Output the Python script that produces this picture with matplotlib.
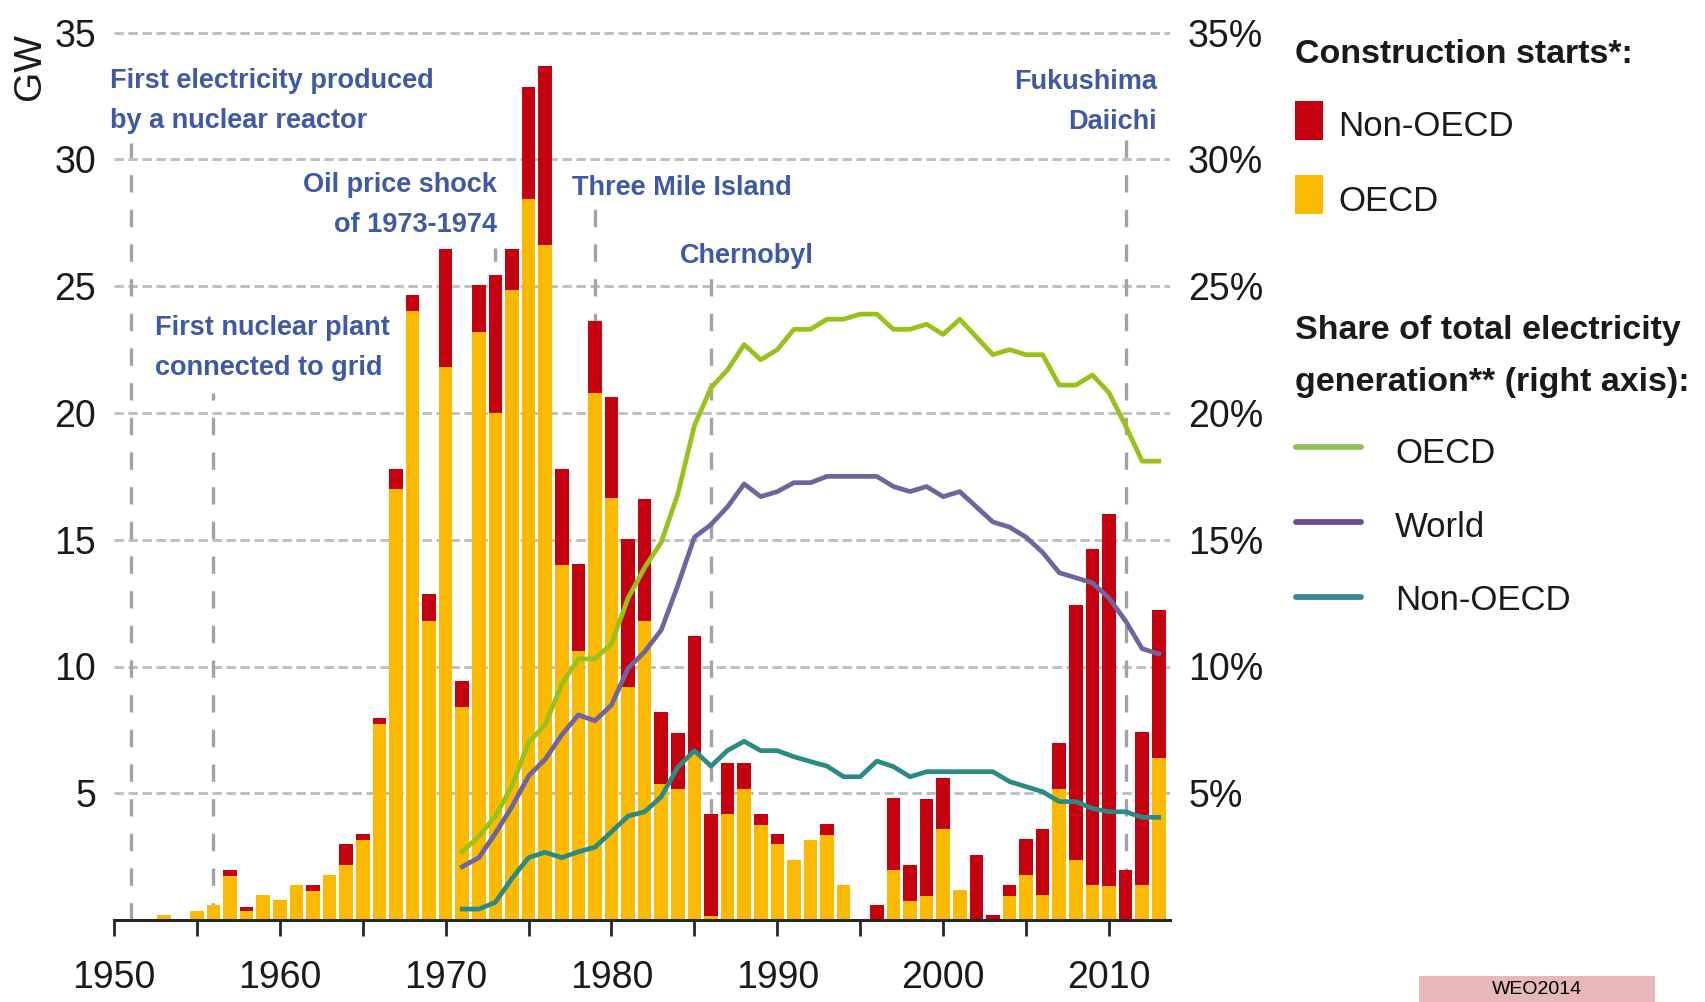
import matplotlib
matplotlib.use("Agg")
import matplotlib.pyplot as plt
from matplotlib.patches import Rectangle
from matplotlib.lines import Line2D

# ---------------- data ----------------
years = list(range(1953, 2014))
oecd_gw = [0.2, 0.0, 0.35, 0.6, 1.73, 0.35, 1.0, 0.79, 1.38, 1.14,
           1.77, 2.17, 3.16, 7.73, 17.0, 24.04, 11.8, 21.83, 8.42, 23.2,
           20.0, 24.85, 28.44, 26.63, 14.0, 10.62, 20.8, 16.65, 9.2, 11.8,
           5.36, 5.17, 6.55, 0.16, 4.18, 5.17, 3.75, 3.0, 2.37, 3.16,
           3.35, 1.38, 0.0, 0.0, 1.97, 0.75, 0.95, 3.59, 1.18, 0.0,
           0.0, 0.95, 1.78, 1.0, 5.17, 2.37, 1.38, 1.34, 0.0, 1.38,
           6.4]
non_oecd_gw = [0.0, 0.0, 0.0, 0.0, 0.24, 0.15, 0.0, 0.0, 0.0, 0.24,
               0.0, 0.83, 0.23, 0.24, 0.8, 0.61, 1.05, 4.64, 1.01, 1.85,
               5.44, 1.62, 4.41, 7.06, 3.8, 3.42, 2.83, 3.99, 5.83, 4.8,
               2.86, 2.19, 4.65, 4.02, 2.0, 1.01, 0.43, 0.39, 0.0, 0.0,
               0.44, 0.0, 0.0, 0.59, 2.83, 1.42, 3.81, 2.0, 0.0, 2.56,
               0.2, 0.43, 1.42, 2.59, 1.8, 10.06, 13.25, 14.66, 1.97, 6.02,
               5.83]

share_years = list(range(1971, 2014))
share_oecd = [2.7, 3.3, 4.1, 5.3, 7.0, 7.7, 9.3, 10.3, 10.3, 10.9,
              12.7, 13.9, 14.9, 16.8, 19.5, 21.0, 21.7, 22.7, 22.1, 22.5,
              23.3, 23.3, 23.7, 23.7, 23.9, 23.9, 23.3, 23.3, 23.5, 23.1,
              23.7, 23.0, 22.3, 22.5, 22.3, 22.3, 21.1, 21.1, 21.5, 20.8,
              19.5, 18.1, 18.1]
share_world = [2.1, 2.46, 3.42, 4.47, 5.68, 6.34, 7.3, 8.09, 7.86, 8.48,
               9.93, 10.58, 11.44, 13.2, 15.1, 15.6, 16.3, 17.2, 16.7, 16.9,
               17.25, 17.25, 17.5, 17.5, 17.5, 17.5, 17.1, 16.9, 17.1, 16.7,
               16.9, 16.3, 15.7, 15.5, 15.1, 14.5, 13.7, 13.5, 13.3, 12.7,
               11.8, 10.7, 10.5]
share_non_oecd = [0.43, 0.43, 0.70, 1.64, 2.46, 2.67, 2.46, 2.69, 2.87, 3.48,
                  4.10, 4.27, 4.86, 6.03, 6.68, 6.07, 6.69, 7.05, 6.68, 6.68,
                  6.44, 6.25, 6.07, 5.65, 5.65, 6.27, 6.05, 5.65, 5.85, 5.85,
                  5.85, 5.85, 5.85, 5.46, 5.26, 5.06, 4.67, 4.67, 4.40, 4.27,
                  4.27, 4.05, 4.05]

event_years = [1951, 1956, 1973, 1979, 1986, 2011]
event_tops = [30.65, 20.8, 26.5, 28.4, 25.4, 30.8]

y_ticks = [5, 10, 15, 20, 25, 30, 35]
left_labels = ["5", "10", "15", "20", "25", "30", "35"]
right_labels = ["5%", "10%", "15%", "20%", "25%", "30%", "35%"]
x_ticks = list(range(1950, 2011, 5))
x_labels = ["1950", "", "1960", "", "1970", "", "1980", "", "1990", "",
            "2000", "", "2010"]

# ---------------- style ----------------
RED = "#C5000F"
YELLOW = "#FBBA00"
GREEN = "#98C11A"
PURPLE = "#6E65A0"
TEAL = "#2C8A84"
LG_GREEN = "#93C157"
LG_PURPLE = "#6B4F8E"
LG_TEAL = "#3E8299"
BLUE = "#4059A6"
DARK = "#1A1A1A"

plt.rcParams["font.family"] = ["Liberation Sans", "DejaVu Sans"]

W, H = 1706, 1002
fig = plt.figure(figsize=(W / 100, H / 100), dpi=100)
fig.patch.set_facecolor("white")


def fx(px):
    return px / W


def fy(py):
    return 1 - py / H


PX_PER_GW = 25.35
Y0 = 920
YTOP = 35.2
ax_top_px = Y0 - YTOP * PX_PER_GW
ax = fig.add_axes([fx(114), fy(Y0), (1170 - 114) / W, (Y0 - ax_top_px) / H])
ax.set_xlim(1950, 2013.68)
ax.set_ylim(0, YTOP)

# grid & event lines
ax.set_yticks(y_ticks)
ax.set_yticklabels(left_labels)
ax.yaxis.grid(True, color="#BFBFBF", lw=2.1, linestyle=(0, (3.2, 1.6)), zorder=0.5)
ax.set_axisbelow(True)
for yr, top in zip(event_years, event_tops):
    ax.plot([yr, yr], [0, top], color="#A3A3A3", lw=2.4,
            linestyle=(0, (5.2, 5.2)), zorder=1)

# bars
ax.bar(years, oecd_gw, width=0.82, color=YELLOW, linewidth=0, zorder=3)
ax.bar(years, non_oecd_gw, width=0.82, bottom=oecd_gw, color=RED, linewidth=0, zorder=3)

for sp in ["left", "right", "top"]:
    ax.spines[sp].set_visible(False)
ax.spines["bottom"].set_color("#262626")
ax.spines["bottom"].set_linewidth(2.2)
ax.spines["bottom"].set_zorder(5)

TICK_FS = 27
ax.set_xticks(x_ticks)
ax.set_xticklabels(x_labels)
ax.tick_params(axis="x", length=11.5, width=2.0, color="#262626", pad=17,
               labelsize=TICK_FS, labelcolor=DARK)
ax.tick_params(axis="y", length=0, pad=13, labelsize=TICK_FS, labelcolor=DARK)

# right axis with share lines
ax2 = ax.twinx()
ax2.set_ylim(0, YTOP)
ax2.set_yticks(y_ticks)
ax2.set_yticklabels(right_labels)
ax2.tick_params(axis="y", length=0, pad=13, labelsize=TICK_FS, labelcolor=DARK)
for sp in ax2.spines.values():
    sp.set_visible(False)
ax2.plot(share_years, share_oecd, color=GREEN, lw=3.4, zorder=4)
ax2.plot(share_years, share_world, color=PURPLE, lw=3.4, zorder=4)
ax2.plot(share_years, share_non_oecd, color=TEAL, lw=3.4, zorder=4)

# y-axis unit label
fig.text(fx(30), fy(67), "GW", rotation=90, ha="center", va="center",
         fontsize=28, color=DARK)

# event annotations
ann = dict(fontsize=19.5, fontweight="bold", color=BLUE, va="baseline")
fig.text(fx(110), fy(88), "First electricity produced", ha="left", **ann)
fig.text(fx(110), fy(128), "by a nuclear reactor", ha="left", **ann)
fig.text(fx(155), fy(335), "First nuclear plant", ha="left", **ann)
fig.text(fx(155), fy(375), "connected to grid", ha="left", **ann)
fig.text(fx(497), fy(192), "Oil price shock", ha="right", **ann)
fig.text(fx(497), fy(232), "of 1973-1974", ha="right", **ann)
fig.text(fx(572), fy(195), "Three Mile Island", ha="left", **ann)
fig.text(fx(680), fy(263), "Chernobyl", ha="left", **ann)
fig.text(fx(1157), fy(89), "Fukushima", ha="right", **ann)
fig.text(fx(1157), fy(129), "Daiichi", ha="right", **ann)

# legend (drawn manually)
head = dict(fontsize=24.5, fontweight="bold", color=DARK, va="baseline", ha="left")
item = dict(fontsize=25, color=DARK, va="baseline", ha="left")
fig.text(fx(1295), fy(63), "Construction starts*:", **head)
fig.add_artist(Rectangle((fx(1295), fy(140)), 28 / W, 39 / H,
                         transform=fig.transFigure, facecolor=RED, edgecolor="none"))
fig.text(fx(1338), fy(136), "Non-OECD", **item)
fig.add_artist(Rectangle((fx(1295), fy(214)), 28 / W, 39 / H,
                         transform=fig.transFigure, facecolor=YELLOW, edgecolor="none"))
fig.text(fx(1338), fy(211), "OECD", **item)

fig.text(fx(1295), fy(339), "Share of total electricity", **head)
fig.text(fx(1295), fy(391), "generation** (right axis):", **head)
for ypx, col, lab, base in [(447, LG_GREEN, "OECD", 463),
                            (522, LG_PURPLE, "World", 537),
                            (597, LG_TEAL, "Non-OECD", 610)]:
    fig.add_artist(Line2D([fx(1296), fx(1361)], [fy(ypx), fy(ypx)], lw=4.2,
                          color=col, solid_capstyle="round",
                          transform=fig.transFigure))
    fig.text(fx(1395), fy(base), lab, **item)

# source tag strip at the bottom
fig.add_artist(Rectangle((fx(1419), 0), (1655 - 1419) / W, (1002 - 976) / H,
                         transform=fig.transFigure, facecolor="#E6B8B8", edgecolor="none"))
fig.text(fx(1537), fy(989), "WEO2014", ha="center", va="center", fontsize=14,
         color="black")

fig.savefig("out.png", dpi=100, facecolor="white")
